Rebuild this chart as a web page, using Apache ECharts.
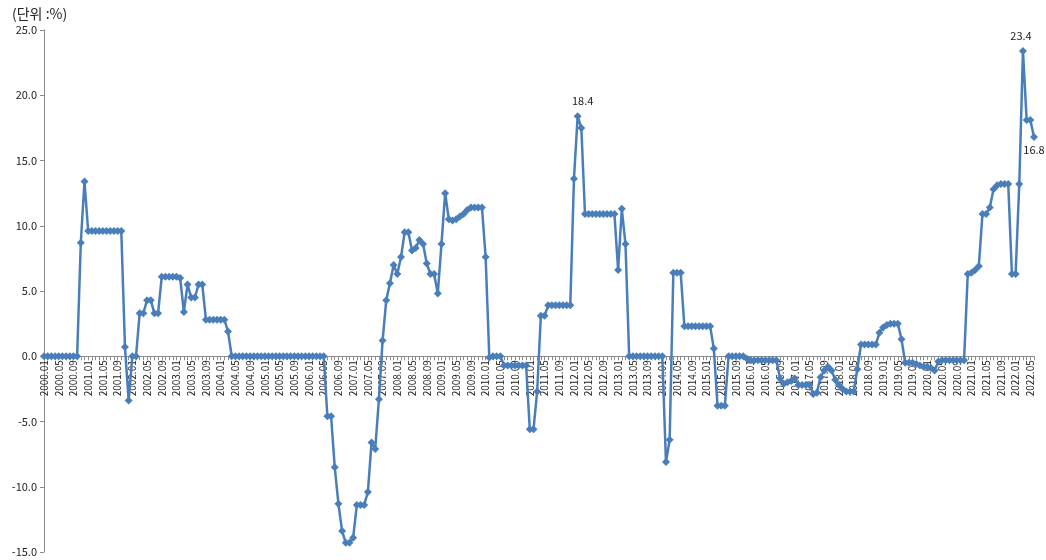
<!DOCTYPE html>
<html>
<head>
<meta charset="utf-8">
<script src="https://cdn.jsdelivr.net/npm/echarts@6/dist/echarts.min.js"></script>
<style>
  html, body { margin: 0; padding: 0; background: #fff; }
  #chart { width: 1046px; height: 560px; }
</style>
</head>
<body>
<div id="chart"></div>
<script>
// Monthly change rate (%), 2000.01 – 2022.06
const startYear = 2000;
const monthCount = 270;

const rate2000 = [0, 0, 0, 0, 0, 0, 0, 0, 0, 0, 8.7, 13.4];
const rate2001 = [9.6, 9.6, 9.6, 9.6, 9.6, 9.6, 9.6, 9.6, 9.6, 9.6, 0.7, -3.4];
const rate2002 = [0, 0, 3.3, 3.3, 4.3, 4.3, 3.3, 3.3, 6.1, 6.1, 6.1, 6.1];
const rate2003 = [6.1, 6.0, 3.4, 5.5, 4.5, 4.5, 5.5, 5.5, 2.8, 2.8, 2.8, 2.8];
const rate2004 = [2.8, 2.8, 1.9, 0, 0, 0, 0, 0, 0, 0, 0, 0];
const rate2005 = [0, 0, 0, 0, 0, 0, 0, 0, 0, 0, 0, 0];
const rate2006 = [0, 0, 0, 0, 0, -4.6, -4.6, -8.5, -11.3, -13.4, -14.3, -14.3];
const rate2007 = [-13.9, -11.4, -11.4, -11.4, -10.4, -6.6, -7.1, -3.3, 1.2, 4.3, 5.6, 7.0];
const rate2008 = [6.3, 7.6, 9.5, 9.5, 8.1, 8.3, 8.9, 8.6, 7.1, 6.3, 6.3, 4.8];
const rate2009 = [8.6, 12.5, 10.5, 10.4, 10.5, 10.7, 10.9, 11.2, 11.4, 11.4, 11.4, 11.4];
const rate2010 = [7.6, -0.1, 0, 0, 0, -0.7, -0.7, -0.7, -0.7, -0.7, -0.7, -0.7];
const rate2011 = [-5.6, -5.6, -2.7, 3.1, 3.1, 3.9, 3.9, 3.9, 3.9, 3.9, 3.9, 3.9];
const rate2012 = [13.6, 18.4, 17.5, 10.9, 10.9, 10.9, 10.9, 10.9, 10.9, 10.9, 10.9, 10.9];
const rate2013 = [6.6, 11.3, 8.6, 0, 0, 0, 0, 0, 0, 0, 0, 0];
const rate2014 = [0, -8.1, -6.4, 6.4, 6.4, 6.4, 2.3, 2.3, 2.3, 2.3, 2.3, 2.3];
const rate2015 = [2.3, 2.3, 0.6, -3.8, -3.8, -3.8, 0, 0, 0, 0, 0, -0.2];
const rate2016 = [-0.3, -0.3, -0.3, -0.3, -0.3, -0.3, -0.3, -0.3, -1.7, -2.1, -2.0, -1.9];
const rate2017 = [-1.7, -2.2, -2.2, -2.2, -2.2, -2.9, -2.8, -1.6, -1.1, -0.8, -1.1, -1.8];
const rate2018 = [-2.2, -2.5, -2.7, -2.7, -2.7, -1.0, 0.9, 0.9, 0.9, 0.9, 0.9, 1.8];
const rate2019 = [2.2, 2.4, 2.5, 2.5, 2.5, 1.3, -0.5, -0.5, -0.5, -0.6, -0.7, -0.8];
const rate2020 = [-0.8, -0.9, -1.1, -0.4, -0.3, -0.3, -0.3, -0.3, -0.3, -0.3, -0.3, 6.3];
const rate2021 = [6.4, 6.6, 6.9, 10.9, 10.9, 11.4, 12.8, 13.1, 13.2, 13.2, 13.2, 6.3];
const rate2022 = [6.3, 13.2, 23.4, 18.1, 18.1, 16.8];

// Points whose value is written next to the marker
const labelledMonths = ['2012.02', '2022.03', '2022.06'];

// Y axis ticks
const yMin = -15, yMax = 25, yStep = 5;

// Placement of the value labels, keyed by month
const labelLook = {
  '2012.02': { position: 'top', offset: [5, 0] },
  '2022.03': { position: 'top', offset: [-2, 0] },
  '2022.06': { position: 'bottom', offset: [0, -3] }
};

const rates = [].concat(
  rate2000, rate2001, rate2002, rate2003, rate2004, rate2005, rate2006, rate2007,
  rate2008, rate2009, rate2010, rate2011, rate2012, rate2013, rate2014, rate2015,
  rate2016, rate2017, rate2018, rate2019, rate2020, rate2021, rate2022
);

const months = [];
for (let i = 0; i < monthCount; i++) {
  const y = startYear + Math.floor(i / 12);
  const m = (i % 12) + 1;
  months.push(y + '.' + (m < 10 ? '0' + m : m));
}

const lineColor = '#4A7EBB';
const textFont = "'Noto Sans CJK KR', 'Noto Sans', sans-serif";

const seriesData = rates.map((v, i) => {
  if (labelledMonths.indexOf(months[i]) < 0) return v;
  const look = labelLook[months[i]];
  return {
    value: v,
    label: {
      show: true,
      position: look.position,
      distance: 6,
      offset: look.offset,
      formatter: p => p.value.toFixed(1),
      fontFamily: textFont,
      fontSize: 11,
      color: '#222'
    }
  };
});

// Plot box; the category axis sits on the zero line inside it
const gridTop = 30, gridBottom = 8, chartHeight = 560;
const plotHeight = chartHeight - gridTop - gridBottom;
const zeroShift = plotHeight * (0 - yMin) / (yMax - yMin);

const chart = echarts.init(document.getElementById('chart'), null, { renderer: 'canvas' });
chart.setOption({
  animation: false,
  backgroundColor: '#fff',
  title: {
    text: '(단위 :%)',
    left: 7,
    top: 2,
    textStyle: { fontFamily: textFont, fontSize: 14, fontWeight: 'normal', color: '#222' }
  },
  grid: { left: 44, right: 12, top: gridTop, bottom: gridBottom, containLabel: false, outerBoundsMode: 'none' },
  xAxis: {
    type: 'category',
    data: months,
    boundaryGap: false,
    position: 'bottom',
    offset: -zeroShift,
    axisLine: { onZero: false, lineStyle: { color: '#8c8c8c', width: 1 } },
    axisTick: { show: true, interval: 0, length: 4, lineStyle: { color: '#8c8c8c' } },
    axisLabel: {
      interval: 3,
      rotate: 90,
      margin: 4,
      fontFamily: textFont,
      fontSize: 10,
      color: '#222'
    },
    splitLine: { show: false }
  },
  yAxis: {
    type: 'value',
    min: yMin,
    max: yMax,
    interval: yStep,
    axisLine: { show: true, lineStyle: { color: '#8c8c8c', width: 1 } },
    axisTick: { show: true, length: 4, lineStyle: { color: '#8c8c8c' } },
    axisLabel: {
      formatter: v => v.toFixed(1),
      margin: 7,
      fontFamily: textFont,
      fontSize: 11,
      color: '#222'
    },
    splitLine: { show: false }
  },
  series: [{
    type: 'line',
    data: seriesData,
    symbol: 'diamond',
    symbolSize: 8,
    showAllSymbol: true,
    lineStyle: { color: lineColor, width: 2.5 },
    itemStyle: { color: lineColor },
    z: 3
  }]
});
</script>
</body>
</html>
